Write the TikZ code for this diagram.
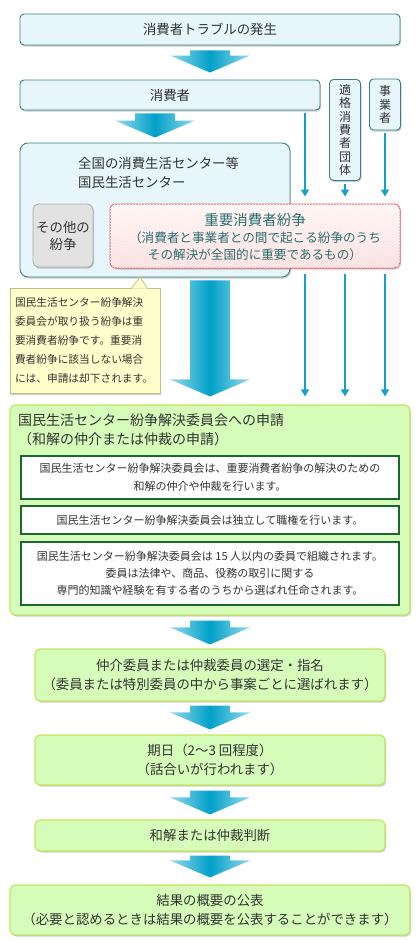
\documentclass[tikz,border=0pt]{standalone}
\usepackage{fontspec}
\setmainfont{Noto Sans CJK JP}
\usepackage{tikz}
\usetikzlibrary{arrows.meta, calc, shadows, patterns}
\definecolor{textgray}{RGB}{51, 51, 51}
\definecolor{boxblue}{RGB}{230, 246, 250}
\definecolor{edgeteal}{RGB}{58, 128, 130}
\definecolor{flowcyan}{RGB}{0, 160, 200}
\definecolor{flowlight}{RGB}{150, 218, 236}
\definecolor{lanecyan}{RGB}{20, 160, 200}
\definecolor{disputetop}{RGB}{255, 242, 242}
\definecolor{disputebottom}{RGB}{255, 214, 214}
\definecolor{disputered}{RGB}{232, 100, 105}
\definecolor{disputetext}{RGB}{40, 110, 110}
\definecolor{othergray}{RGB}{226, 226, 226}
\definecolor{otheredge}{RGB}{170, 170, 170}
\definecolor{noteyellow}{RGB}{255, 255, 204}
\definecolor{noteedge}{RGB}{200, 190, 130}
\definecolor{applygreen}{RGB}{214, 252, 186}
\definecolor{applyedge}{RGB}{196, 228, 90}
\definecolor{ruleedge}{RGB}{28, 104, 44}
\newcommand{\flowarrow}[2]{%
  \path[flowshape] let \p1=#1, \p2=#2 in
    (\x1-20pt,\y1) -- (\x1+20pt,\y1) -- (\x1+20pt,\y2+17pt) -- (\x1+40pt,\y2+17pt)
    -- (\x1,\y2) -- (\x1-40pt,\y2+17pt) -- (\x1-20pt,\y2+17pt) -- cycle;}
\begin{document}
\begin{tikzpicture}[
  x=1pt, y=-1pt, font=\fontsize{13.4}{19.5}\selectfont,
  every node/.style={inner sep=0pt, text=textgray},
  softshadow/.style={drop shadow={shadow xshift=1pt, shadow yshift=-1.5pt, fill=black, opacity=0.2}},
  bluebox/.style={draw=edgeteal, fill=boxblue, line width=0.9pt, rounded corners=4pt, softshadow},
  greenbox/.style={draw=applyedge, fill=applygreen, line width=1.1pt, rounded corners=5pt, softshadow},
  rulebox/.style={draw=ruleedge, fill=white, line width=2pt, align=center, font=\fontsize{11}{17.5}\selectfont},
  tagbox/.style={bluebox, align=center, font=\fontsize{12}{13.3}\selectfont},
  lane/.style={draw=lanecyan, line width=1.6pt, -{Triangle[width=8pt, length=7pt]}},
  flowshape/.style={left color=flowlight, right color=flowlight, middle color=flowcyan}
]
\useasboundingbox (0,0) rectangle (420,940);
\node[bluebox, minimum width=380pt, minimum height=31pt] (trouble) at (210,29.5) {消費者トラブルの発生};
\node[bluebox, minimum width=300pt, minimum height=30pt] (consumer) at (170,95) {消費者};
\node[tagbox, minimum width=31pt, minimum height=101pt] (tekikaku) at (345,130) {適\\格\\消\\費\\者\\団\\体};
\node[tagbox, minimum width=31pt, minimum height=51pt] (jigyo) at (385,104.5) {事\\業\\者};
\node[bluebox, rounded corners=8pt, minimum width=270pt, minimum height=134pt] (ctr) at (155,210) {};
\node[anchor=west, align=left] (ctrlabel) at (78,173) {全国の消費生活センター等\\国民生活センター};
\node[draw=otheredge, fill=othergray, rounded corners=6pt, line width=0.8pt, softshadow, minimum width=60pt, minimum height=63pt, align=center, font=\fontsize{13.4}{17}\selectfont] (other) at (63,235.5) {その他の\\紛争};
\node[draw=disputered, line width=1pt, rounded corners=6pt, top color=disputetop, bottom color=disputebottom, postaction={pattern=north east lines, pattern color=white}, softshadow, minimum width=290pt, minimum height=64pt] (juyo) at (255,236) {};
\node[text=disputetext, font=\fontsize{14.5}{18}\selectfont] (juyotitle) at (255,220) {重要消費者紛争};
\node[text=disputetext, align=center, font=\fontsize{12.6}{17}\selectfont] (juyonote) at (255,246.5) {（消費者と事業者との間で起こる紛争のうち\\その解決が全国的に重要であるもの）};
\node[draw=noteedge, fill=noteyellow, line width=0.8pt, softshadow, minimum width=150pt, minimum height=105pt, text width=140pt, align=left, font=\fontsize{10.7}{18.8}\selectfont] (note) at (85,340.5) {国民生活センター紛争解決\\委員会が取り扱う紛争は重\\要消費者紛争です。重要消\\費者紛争に該当しない場合\\には、申請は却下されます。};
\coordinate (notetip) at (140,277);
\fill[noteyellow] ($(note.north -| notetip)+(-8,1)$) -- (notetip) -- ($(note.north -| notetip)+(7,1)$) -- cycle;
\draw[noteedge, line width=0.8pt] ($(note.north -| notetip)+(-8,0)$) -- (notetip) -- ($(note.north -| notetip)+(7,0)$);
\node[greenbox, minimum width=400pt, minimum height=210pt] (apply) at (210,510) {};
\node[anchor=west, align=left, font=\fontsize{14}{19}\selectfont] (applytitle) at (18,429.5) {国民生活センター紛争解決委員会への申請\\（和解の仲介または仲裁の申請）};
\node[rulebox, minimum width=378pt, minimum height=43pt] (rule1) at (210,477.5) {国民生活センター紛争解決委員会は、重要消費者紛争の解決のための\\和解の仲介や仲裁を行います。};
\node[rulebox, minimum width=378pt, minimum height=28pt] (rule2) at (210,520) {国民生活センター紛争解決委員会は独立して職権を行います。};
\node[rulebox, minimum width=378pt, minimum height=63pt, font=\fontsize{11}{17}\selectfont] (rule3) at (210,573.5) {国民生活センター紛争解決委員会は 15 人以内の委員で組織されます。\\委員は法律や、商品、役務の取引に関する\\専門的知識や経験を有する者のうちから選ばれ任命されます。};
\node[greenbox, minimum width=350pt, minimum height=52pt, align=center] (select) at (210,675) {仲介委員または仲裁委員の選定・指名\\（委員または特別委員の中から事案ごとに選ばれます）};
\node[greenbox, minimum width=350pt, minimum height=50pt, align=center] (hearing) at (210,760) {期日（2～3 回程度）\\（話合いが行われます）};
\node[greenbox, minimum width=350pt, minimum height=31pt] (award) at (210,835.5) {和解または仲裁判断};
\node[greenbox, minimum width=400pt, minimum height=50pt, align=center] (publish) at (210,910) {結果の概要の公表\\（必要と認めるときは結果の概要を公表することができます）};
\flowarrow{($(trouble.south)+(0,5)$)}{($(consumer.north)+(0,-7)$)}
\flowarrow{($(ctr.north |- consumer.south)+(0,3)$)}{($(ctr.north)+(0,-5)$)}
\flowarrow{($(apply.north |- ctr.south)+(0,3)$)}{($(apply.north)+(0,-8)$)}
\flowarrow{($(apply.south)+(0,5)$)}{($(select.north)+(0,-4)$)}
\flowarrow{($(select.south)+(0,4)$)}{($(hearing.north)+(0,-5)$)}
\flowarrow{($(hearing.south)+(0,5)$)}{($(award.north)+(0,-5)$)}
\flowarrow{($(award.south)+(0,4)$)}{($(publish.north)+(0,-7)$)}
\coordinate (laneA) at (305,0);
\draw[lane] ($(consumer.south -| laneA)+(0,3)$) -- ($(juyo.north -| laneA)+(0,-7)$);
\draw[lane] ($(tekikaku.south)+(0,3)$) -- ($(juyo.north -| tekikaku.south)+(0,-7)$);
\draw[lane] ($(jigyo.south)+(0,3)$) -- ($(juyo.north -| jigyo.south)+(0,-7)$);
\foreach \src in {laneA, tekikaku.south, jigyo.south} {\draw[lane] ($(juyo.south -| \src)+(0,5)$) -- ($(apply.north -| \src)+(0,-8)$);}
\end{tikzpicture}
\end{document}
